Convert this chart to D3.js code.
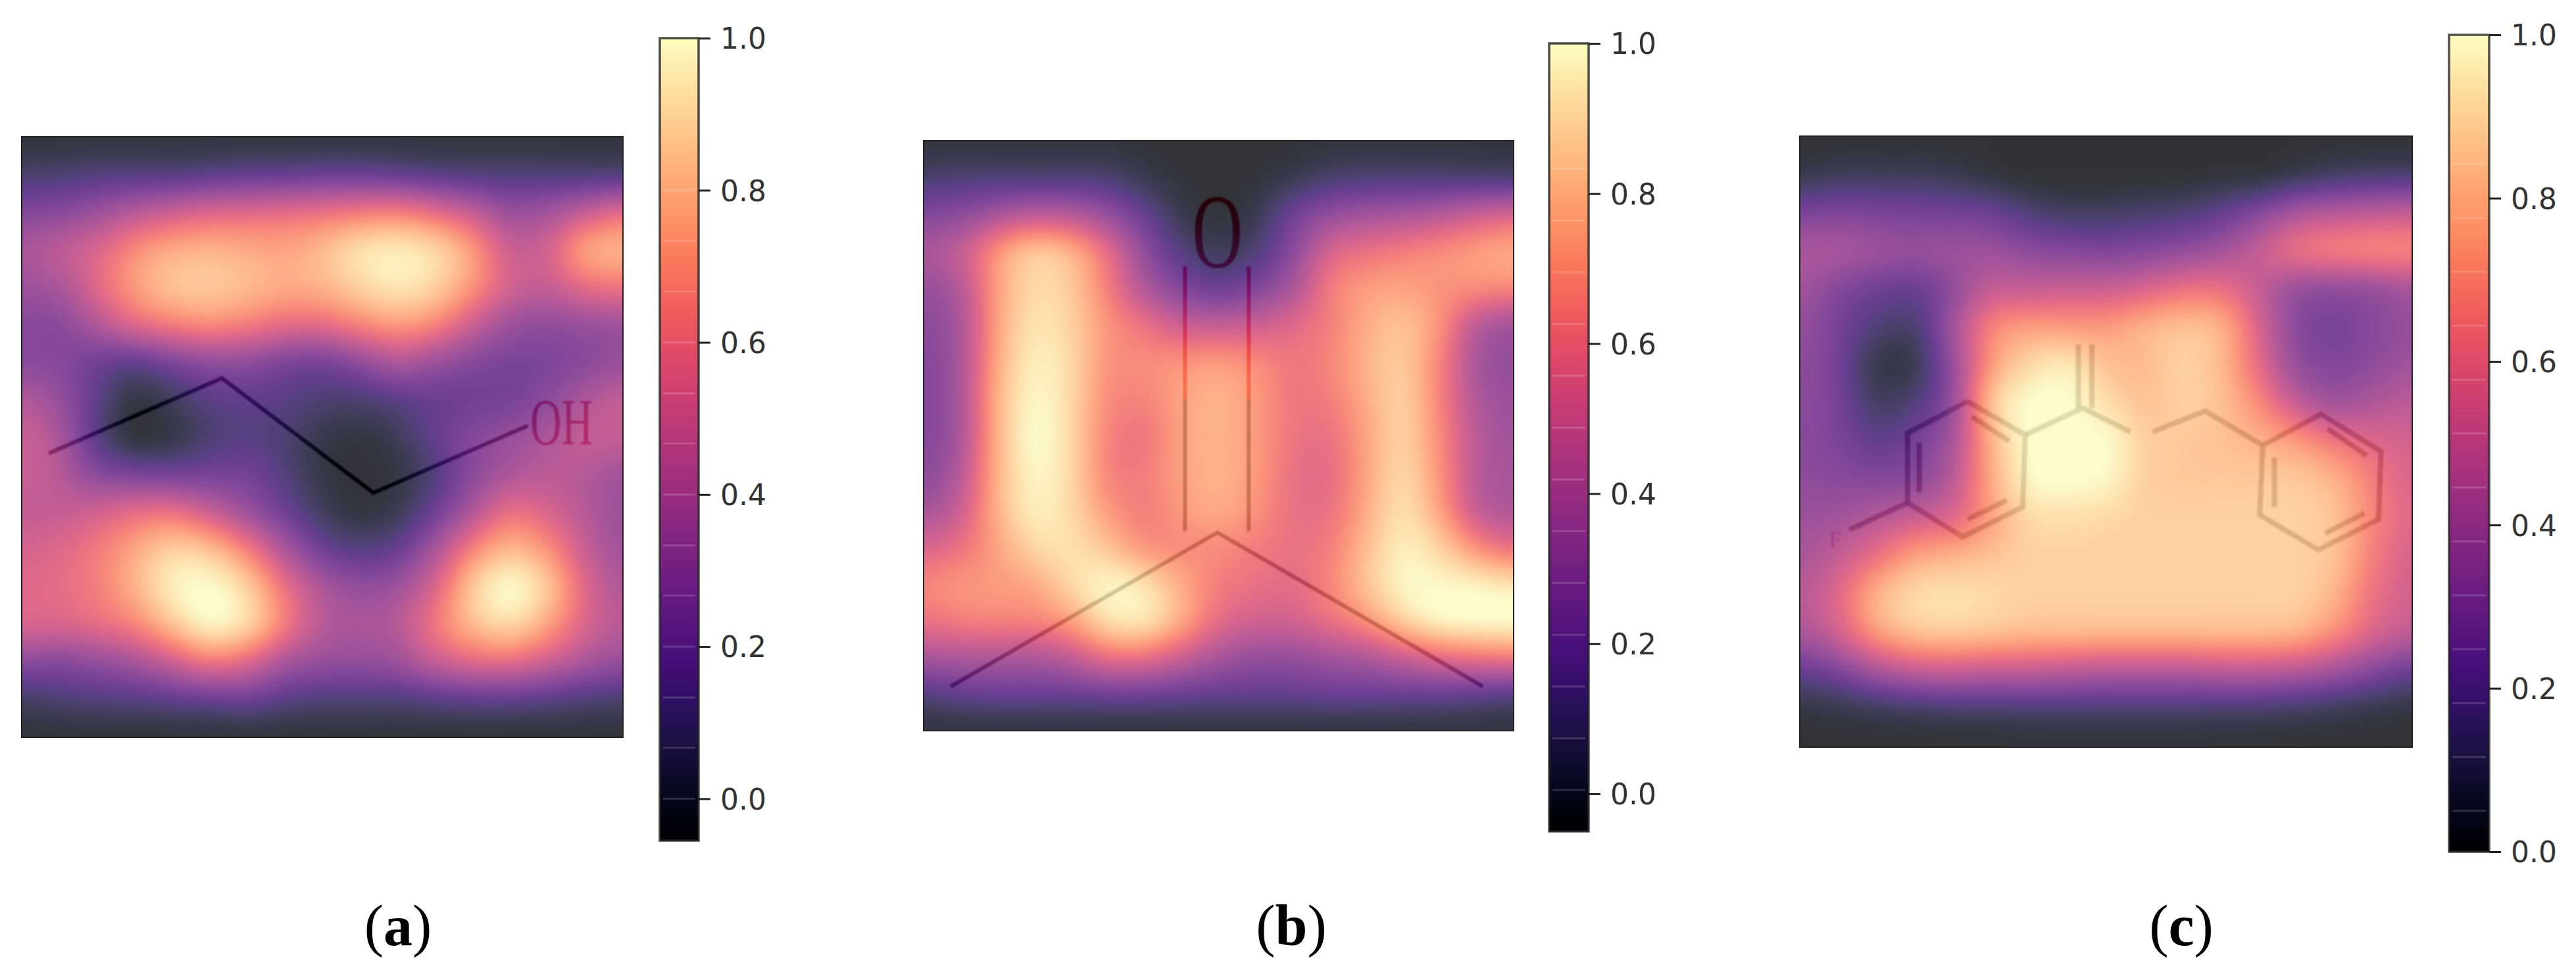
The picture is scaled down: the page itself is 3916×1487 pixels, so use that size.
<!DOCTYPE html>
<html>
<head>
<meta charset="utf-8">
<script src="https://cdn.jsdelivr.net/npm/d3@7"></script>
<style>
html, body { margin: 0; padding: 0; background: #fff; }
svg { display: block; }
</style>
</head>
<body>
<script>
// heat values (0 = black end of the colormap, 1 = pale end)
var gridA = [
    [.02,.02,.02,.02,.02,.02,.02,.02,.02,.02,.02,.02,.02,.02,.02,.02,.02],
    [.13,.14,.16,.17,.17,.19,.21,.21,.23,.23,.21,.18,.16,.15,.15,.15,.15],
    [.30,.32,.38,.46,.52,.57,.58,.60,.62,.65,.67,.60,.50,.37,.40,.50,.60],
    [.42,.48,.56,.70,.78,.80,.78,.76,.82,.92,.95,.90,.74,.52,.54,.76,.80],
    [.38,.42,.58,.74,.84,.86,.82,.78,.80,.88,.94,.88,.72,.54,.50,.60,.64],
    [.32,.32,.44,.58,.66,.70,.66,.60,.60,.68,.74,.68,.52,.38,.34,.37,.38],
    [.32,.31,.24,.20,.28,.34,.34,.28,.26,.34,.44,.38,.31,.27,.28,.32,.37],
    [.45,.36,.20,.04,.10,.18,.20,.18,.14,.14,.18,.22,.24,.26,.33,.43,.50],
    [.52,.42,.18,.02,.05,.14,.17,.14,.06,.03,.09,.21,.31,.37,.43,.50,.50],
    [.52,.46,.32,.28,.26,.26,.26,.16,.05,.01,.04,.16,.32,.43,.47,.45,.39],
    [.50,.50,.54,.60,.62,.52,.38,.24,.10,.03,.08,.24,.44,.62,.56,.46,.37],
    [.55,.58,.65,.77,.88,.84,.67,.43,.24,.17,.22,.42,.68,.82,.72,.51,.39],
    [.58,.60,.66,.80,.96,1.0,.88,.62,.43,.35,.39,.56,.86,1.0,.86,.58,.43],
    [.56,.56,.60,.68,.84,.98,.90,.66,.46,.42,.46,.64,.82,.90,.76,.56,.46],
    [.33,.31,.35,.41,.52,.64,.58,.42,.36,.35,.38,.50,.58,.60,.52,.42,.35],
    [.11,.14,.16,.17,.20,.22,.24,.18,.15,.15,.15,.18,.20,.20,.18,.15,.13],
    [.01,.01,.01,.01,.01,.01,.01,.01,.01,.01,.01,.01,.01,.01,.01,.01,.01]
];

var gridB = [
    [.02,.02,.02,.02,.02,.02,.01,.00,.00,.00,.01,.02,.02,.02,.02,.02,.02],
    [.13,.15,.15,.15,.15,.14,.07,.02,.00,.02,.07,.13,.15,.15,.15,.14,.14],
    [.30,.33,.42,.48,.46,.36,.22,.07,.02,.07,.24,.35,.40,.42,.46,.52,.56],
    [.42,.50,.72,.86,.80,.60,.34,.17,.09,.15,.32,.55,.62,.66,.70,.74,.78],
    [.36,.45,.75,.90,.86,.66,.44,.30,.23,.30,.42,.65,.74,.76,.72,.70,.68],
    [.32,.42,.76,.93,.88,.72,.62,.52,.50,.52,.58,.66,.78,.84,.72,.47,.39],
    [.30,.42,.78,.96,.90,.72,.70,.72,.74,.70,.64,.68,.80,.86,.68,.42,.35],
    [.30,.42,.80,.98,.90,.70,.68,.76,.80,.74,.64,.66,.78,.88,.68,.44,.37],
    [.30,.42,.80,1.0,.90,.68,.64,.76,.80,.74,.64,.62,.76,.88,.70,.47,.39],
    [.32,.46,.80,.98,.90,.68,.66,.76,.80,.74,.62,.60,.76,.90,.72,.47,.41],
    [.40,.52,.80,.96,.90,.74,.66,.74,.78,.72,.62,.62,.78,.92,.76,.50,.43],
    [.55,.62,.76,.90,.92,.84,.72,.70,.70,.66,.62,.66,.82,.96,.88,.70,.60],
    [.68,.72,.74,.78,.90,.98,.92,.78,.66,.62,.60,.68,.84,.98,.98,.96,.92],
    [.62,.66,.68,.68,.76,.92,.94,.78,.60,.54,.54,.62,.72,.88,.98,1.0,1.0],
    [.42,.44,.44,.44,.50,.62,.62,.52,.42,.36,.36,.40,.44,.52,.60,.64,.66],
    [.17,.21,.23,.23,.23,.25,.25,.23,.21,.21,.21,.23,.23,.23,.23,.21,.19],
    [.02,.02,.02,.02,.02,.02,.02,.02,.02,.02,.02,.02,.02,.02,.02,.02,.02]
];

var gridC = [
    [.00,.00,.00,.00,.00,.00,.00,.00,.00,.00,.00,.00,.00,.00,.00,.00,.00],
    [.06,.09,.09,.09,.07,.03,.00,.00,.00,.00,.00,.02,.02,.07,.11,.13,.13],
    [.27,.29,.27,.26,.25,.23,.15,.11,.11,.13,.15,.21,.31,.42,.46,.48,.50],
    [.42,.42,.38,.36,.38,.38,.33,.31,.29,.31,.35,.40,.50,.62,.66,.68,.68],
    [.40,.30,.24,.22,.34,.50,.50,.52,.52,.56,.62,.62,.50,.36,.34,.36,.42],
    [.36,.26,.15,.13,.40,.68,.75,.74,.74,.80,.84,.80,.56,.32,.27,.32,.36],
    [.34,.25,.06,.07,.36,.74,.90,.95,.84,.82,.88,.82,.60,.36,.30,.34,.40],
    [.33,.26,.11,.16,.36,.85,1.0,1.0,.92,.84,.88,.84,.70,.50,.40,.44,.48],
    [.32,.28,.20,.26,.42,.80,1.0,1.0,1.0,.88,.86,.84,.80,.74,.64,.58,.54],
    [.34,.32,.31,.33,.47,.78,.98,1.0,.98,.88,.86,.86,.86,.86,.80,.66,.56],
    [.38,.40,.46,.52,.58,.76,.90,.92,.90,.88,.88,.88,.88,.88,.84,.68,.58],
    [.42,.50,.62,.76,.80,.84,.88,.88,.88,.88,.88,.88,.88,.88,.84,.66,.55],
    [.46,.58,.80,.90,.92,.90,.88,.88,.88,.88,.88,.88,.88,.88,.80,.62,.54],
    [.42,.54,.74,.84,.86,.84,.82,.82,.82,.82,.82,.82,.82,.80,.70,.56,.48],
    [.21,.29,.42,.50,.52,.50,.50,.48,.46,.46,.46,.48,.48,.46,.40,.31,.23],
    [.04,.06,.09,.11,.13,.13,.14,.14,.14,.14,.14,.13,.13,.11,.09,.06,.04],
    [.00,.00,.00,.00,.00,.00,.00,.00,.00,.00,.00,.00,.00,.00,.00,.00,.00]
];

// colorbars
var tickValues = [0, 0.2, 0.4, 0.6, 0.8, 1];
var domainA = [-0.055, 1];
var domainB = [-0.05, 1];
var domainC = [0, 1];
// faint bands in the bars
var bandsA = [0, .067, .133, .2, .267, .333, .4, .467, .533, .6, .667, .733, .8];
var bandsB = [.005, .074, .143, .212, .281, .35, .419, .488, .557, .626, .695, .764, .833];
var bandsC = [.05, .116, .182, .248, .314, .38, .446, .512, .578, .644, .71, .776, .842];

// molecules, in percent of the panel
var bondsA = [[[4.5, 52.7], [33.3, 40.2], [58.5, 59.3], [84.2, 48.1]]];
var bondsB = [
    [[4.6, 92.5], [49.8, 66.4], [94.8, 92.5]],
    [[44.3, 43.7], [44.3, 66.2]],
    [[55.1, 43.7], [55.1, 66.2]]
];
var redBondsB = [
    [[44.3, 21.3], [44.3, 43.7]],
    [[55.1, 21.3], [55.1, 43.7]]
];
var bondsC = [
    [[27.4, 43.4], [36.8, 48.9], [36.4, 60.7], [26.6, 65.6], [17.6, 60], [17.6, 48.6], [27.4, 43.4]],
    [[8.1, 64.4], [17.6, 60]],
    [[36.8, 48.9], [46.2, 44.5], [54, 48.4]],
    [[57.6, 48.4], [66.2, 45], [75.6, 50.6]],
    [[75.6, 50.6], [85.1, 45.5], [94.9, 51.6], [94.5, 62.7], [84.7, 67.7], [75.1, 62], [75.6, 50.6]],
    [[45.5, 44.5], [45.5, 34.1]],
    [[47.7, 44.5], [47.7, 34.1]],
    [[28.1, 45.9], [34.2, 49.9]],
    [[19.5, 50.2], [19.5, 58.3]],
    [[27.4, 62.7], [33.8, 59.6]],
    [[86.2, 47.9], [92.6, 52.3]],
    [[77.5, 52.6], [77.5, 60.7]],
    [[85.8, 65], [92.2, 61.7]]
];

var captions = ['a', 'b', 'c'];

var panels = [
    {grid: gridA, box: [33, 947, 208, 1121], bar: [1003, 1062, 1278, 58], domain: domainA, bands: bandsA, bonds: bondsA, red: [], sw: 6, op: 1, cx: 605},
    {grid: gridB, box: [1404, 2301, 214, 1111], bar: [2355, 2415, 1264, 66], domain: domainB, bands: bandsB, bonds: bondsB, red: redBondsB, sw: 6, op: 0.9, cx: 1963},
    {grid: gridC, box: [2736, 3667, 207, 1136], bar: [3723, 3784, 1295, 53], domain: domainC, bands: bandsC, bonds: bondsC, red: [], sw: 8, op: 0.62, cx: 3316}
];

var width = 3916, height = 1487;
var heatOpacity = 0.8;
var heatBlur = 14;

var svg = d3.select('body').append('svg')
    .attr('width', width)
    .attr('height', height)
    .attr('viewBox', '0 0 ' + width + ' ' + height);

svg.append('defs').append('filter').attr('id', 'soft')
    .append('feGaussianBlur').attr('stdDeviation', 1.2);

var color = d3.scaleSequential(d3.interpolateMagma).domain([0, 1]).clamp(true);
var lut = d3.range(1024).map(function(i){ return d3.rgb(color(i / 1023)); });

function catmull(v, t){
    var n = v.length - 1;
    var p = Math.min(Math.max(t, 0), 1) * n;
    var i = Math.min(Math.floor(p), n - 1);
    var f = p - i;
    var a = v[Math.max(i - 1, 0)], b = v[i], c = v[i + 1], d = v[Math.min(i + 2, n)];
    return 0.5 * (2 * b + (c - a) * f + (2 * a - 5 * b + 4 * c - d) * f * f + (3 * b - a - 3 * c + d) * f * f * f);
}

// smooth the grid like imshow does, returns a data url
function rasterize(grid, w, h){
    var values = new Float32Array(w * h);
    var columns = d3.transpose(grid);
    var k = 0;
    for (var y = 0; y < h; y++){
        var row = columns.map(function(col){ return catmull(col, y / (h - 1)); });
        for (var x = 0; x < w; x++){
            values[k++] = catmull(row, x / (w - 1));
        }
    }
    d3.blur2({data: values, width: w, height: h}, heatBlur);

    var canvas = document.createElement('canvas');
    canvas.width = w;
    canvas.height = h;
    var ctx = canvas.getContext('2d');
    var img = ctx.createImageData(w, h);
    for (var i = 0; i < values.length; i++){
        var c = lut[Math.max(0, Math.min(1023, Math.round(values[i] * 1023)))];
        img.data[i * 4] = c.r;
        img.data[i * 4 + 1] = c.g;
        img.data[i * 4 + 2] = c.b;
        img.data[i * 4 + 3] = 255;
    }
    ctx.putImageData(img, 0, 0);
    return canvas.toDataURL();
}

function drawPanel(p, i){
    var g = svg.append('g').attr('class', 'panel-' + captions[i]);
    var x = d3.scaleLinear().domain([0, 100]).range([p.box[0], p.box[1]]);
    var y = d3.scaleLinear().domain([0, 100]).range([p.box[2], p.box[3]]);
    var line = d3.line().x(function(d){ return x(d[0]); }).y(function(d){ return y(d[1]); });

    // molecule sits under the heat layer
    var mol = g.append('g').attr('filter', 'url(#soft)');
    mol.selectAll('path.bond').data(p.bonds).enter().append('path')
        .attr('class', 'bond')
        .attr('d', line)
        .attr('fill', 'none')
        .attr('stroke', '#000')
        .attr('stroke-opacity', p.op)
        .attr('stroke-width', p.sw)
        .attr('stroke-linejoin', 'miter');
    mol.selectAll('path.red').data(p.red).enter().append('path')
        .attr('class', 'red')
        .attr('d', line)
        .attr('fill', 'none')
        .attr('stroke', '#e00000')
        .attr('stroke-width', p.sw);

    if (i === 0){
        mol.append('text')
            .attr('transform', 'translate(' + x(89.8) + ',' + y(51.2) + ') scale(0.66,1)')
            .attr('text-anchor', 'middle')
            .attr('font-family', '"Liberation Serif"')
            .attr('font-size', 100)
            .attr('fill', '#a00020')
            .text('OH');
    }
    if (i === 1){
        mol.append('text')
            .attr('transform', 'translate(' + x(49.8) + ',' + y(21.4) + ') scale(0.66,1)')
            .attr('text-anchor', 'middle')
            .attr('font-family', '"Liberation Serif"')
            .attr('font-size', 162)
            .attr('fill', '#b00000')
            .text('O');
    }
    if (i === 2){
        mol.append('text')
            .attr('x', x(5.8))
            .attr('y', y(67.2))
            .attr('text-anchor', 'middle')
            .attr('font-family', '"Liberation Serif"')
            .attr('font-size', 34)
            .attr('fill', '#a03070')
            .attr('opacity', 0.7)
            .text('F');
    }

    var w = p.box[1] - p.box[0], h = p.box[3] - p.box[2];
    g.append('image')
        .attr('x', p.box[0])
        .attr('y', p.box[2])
        .attr('width', w)
        .attr('height', h)
        .attr('opacity', heatOpacity)
        .attr('href', rasterize(p.grid, w, h));

    g.append('rect')
        .attr('x', p.box[0])
        .attr('y', p.box[2])
        .attr('width', w)
        .attr('height', h)
        .attr('fill', 'none')
        .attr('stroke', '#222')
        .attr('stroke-width', 2);

    drawColorbar(g, p);

    svg.append('text')
        .attr('x', p.cx)
        .attr('y', 1437)
        .attr('text-anchor', 'middle')
        .attr('font-family', '"Liberation Serif"')
        .attr('font-size', 88)
        .attr('fill', '#000')
        .call(function(t){
            t.append('tspan').text('(');
            t.append('tspan').attr('font-weight', 'bold').text(captions[i]);
            t.append('tspan').text(')');
        });
}

function drawColorbar(g, p){
    var scale = d3.scaleLinear().domain(p.domain).range([p.bar[2], p.bar[3]]);
    var barX = p.bar[0], barW = p.bar[1] - p.bar[0];
    var levels = d3.range(p.domain[0], p.domain[1], 0.002);
    var norm = d3.scaleLinear().domain(p.domain).range([0, 1]);

    g.append('g').selectAll('rect').data(levels).enter().append('rect')
        .attr('x', barX)
        .attr('width', barW)
        .attr('y', function(d){ return scale(d + 0.002) - 0.5; })
        .attr('height', function(d){ return scale(d) - scale(d + 0.002) + 1; })
        .attr('fill', function(d){ return color(norm(d)); });

    g.append('g').selectAll('rect').data(p.bands).enter().append('rect')
        .attr('x', barX + 5)
        .attr('width', barW - 10)
        .attr('y', function(d){ return scale(d) - 1.5; })
        .attr('height', 3)
        .attr('fill', '#fff')
        .attr('opacity', 0.16);

    g.append('rect')
        .attr('x', barX)
        .attr('y', p.bar[3])
        .attr('width', barW)
        .attr('height', p.bar[2] - p.bar[3])
        .attr('fill', 'none')
        .attr('stroke', '#222')
        .attr('stroke-opacity', 0.8)
        .attr('stroke-width', 3.5);

    var axis = d3.axisRight(scale)
        .tickValues(tickValues)
        .tickFormat(d3.format('.1f'))
        .tickSize(18)
        .tickPadding(15);

    var ax = g.append('g')
        .attr('transform', 'translate(' + p.bar[1] + ',0)')
        .call(axis);
    ax.select('.domain').remove();
    ax.selectAll('.tick line').attr('stroke', '#222').attr('stroke-width', 3);
    ax.selectAll('.tick text')
        .attr('font-family', '"DejaVu Sans"')
        .attr('font-size', 44)
        .attr('fill', '#333')
        .attr('dy', '0.36em');
}

panels.forEach(drawPanel);
</script>
</body>
</html>
